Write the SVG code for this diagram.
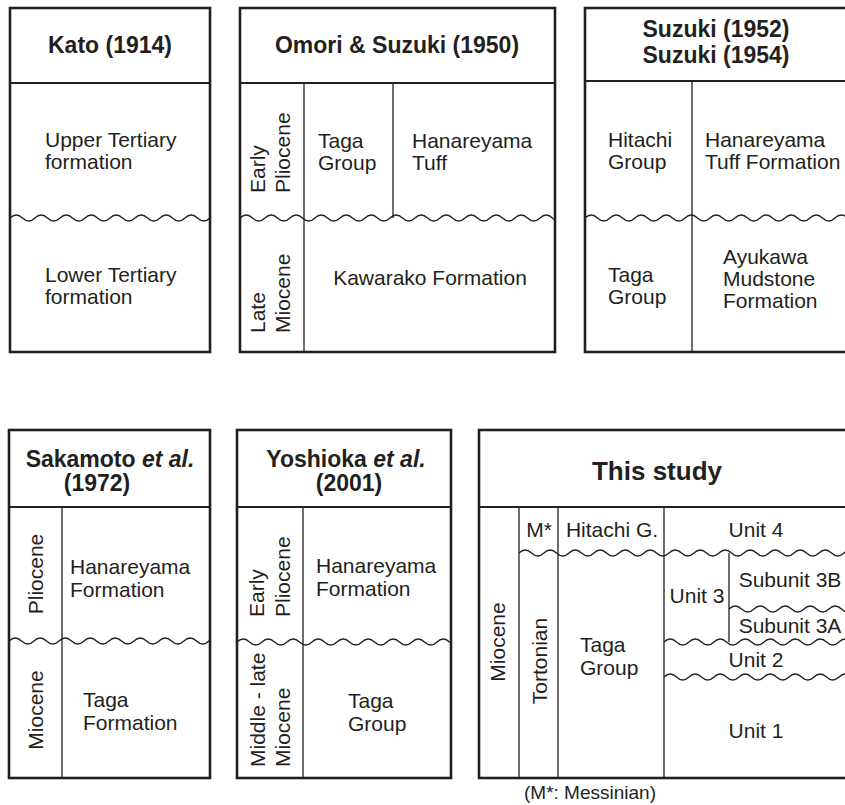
<svg xmlns="http://www.w3.org/2000/svg" width="845" height="805" viewBox="0 0 845 805">
  <style>
    .frame { fill: none; stroke: #231f20; stroke-width: 2.6; }
    .head { fill: none; stroke: #231f20; stroke-width: 2; }
    .rule { fill: none; stroke: #231f20; stroke-width: 1.3; }
    .wavy { fill: none; stroke: #231f20; stroke-width: 1.3; }
    text { font-family: "Liberation Sans", Arial, sans-serif; fill: #231f20; }
    .title { font-weight: bold; font-size: 23px; text-anchor: middle; }
    .big { font-size: 26px; }
    .body { font-size: 21px; }
    .mid { text-anchor: middle; }
    .note { font-size: 19px; text-anchor: middle; }
  </style>
  <defs>
    <!-- unconformity line: repeating half-waves of 12.5 px -->
    <path id="wave" d="M0,0 q6.25,-6 12.5,0 t12.5,0 t12.5,0 t12.5,0 t12.5,0 t12.5,0 t12.5,0 t12.5,0 t12.5,0 t12.5,0 t12.5,0 t12.5,0 t12.5,0 t12.5,0 t12.5,0 t12.5,0 t12.5,0 t12.5,0 t12.5,0 t12.5,0 t12.5,0 t12.5,0 t12.5,0 t12.5,0 t12.5,0 t12.5,0 t12.5,0 t12.5,0 t12.5,0 t12.5,0 t12.5,0 t12.5,0"/>
    <clipPath id="c1" clipPathUnits="userSpaceOnUse"><rect x="10" y="0" width="200" height="805"/></clipPath>
    <clipPath id="c2" clipPathUnits="userSpaceOnUse"><rect x="240" y="0" width="315" height="805"/></clipPath>
    <clipPath id="c3" clipPathUnits="userSpaceOnUse"><rect x="585" y="0" width="263" height="805"/></clipPath>
    <clipPath id="c4" clipPathUnits="userSpaceOnUse"><rect x="9" y="0" width="201" height="805"/></clipPath>
    <clipPath id="c5" clipPathUnits="userSpaceOnUse"><rect x="237" y="0" width="214" height="805"/></clipPath>
    <clipPath id="c6" clipPathUnits="userSpaceOnUse"><rect x="479" y="0" width="369" height="805"/></clipPath>
  </defs>

  <!-- Kato (1914) -->
  <g id="kato">
    <rect class="frame" x="10" y="8" width="200" height="344"/>
    <line class="head" x1="10" y1="83" x2="210" y2="83"/>
    <g class="wavy" clip-path="url(#c1)"><use href="#wave" x="10" y="218"/></g>
    <text class="title" x="110" y="53">Kato (1914)</text>
    <text class="body" x="45" y="147">Upper Tertiary</text>
    <text class="body" x="45" y="169">formation</text>
    <text class="body" x="45" y="282">Lower Tertiary</text>
    <text class="body" x="45" y="304">formation</text>
  </g>

  <!-- Omori & Suzuki (1950) -->
  <g id="omori-suzuki">
    <rect class="frame" x="240" y="8" width="315" height="344"/>
    <line class="head" x1="240" y1="83" x2="555" y2="83"/>
    <line class="rule" x1="304" y1="83" x2="304" y2="352"/>
    <line class="rule" x1="393" y1="83" x2="393" y2="218"/>
    <g class="wavy" clip-path="url(#c2)"><use href="#wave" x="240" y="218"/></g>
    <text class="title" x="397" y="53">Omori &amp; Suzuki (1950)</text>
    <text class="body" transform="translate(265,193) rotate(-90)">Early</text>
    <text class="body" transform="translate(290,193) rotate(-90)">Pliocene</text>
    <text class="body" x="318" y="148">Taga</text>
    <text class="body" x="318" y="170">Group</text>
    <text class="body" x="412" y="148">Hanareyama</text>
    <text class="body" x="412" y="170">Tuff</text>
    <text class="body" transform="translate(265,333) rotate(-90)">Late</text>
    <text class="body" transform="translate(290,333) rotate(-90)">Miocene</text>
    <text class="body mid" x="430" y="285">Kawarako Formation</text>
  </g>

  <!-- Suzuki (1952, 1954) -->
  <g id="suzuki">
    <rect class="frame" x="585" y="8" width="263" height="344"/>
    <line class="head" x1="585" y1="81" x2="848" y2="81"/>
    <line class="rule" x1="692" y1="81" x2="692" y2="352"/>
    <g class="wavy" clip-path="url(#c3)"><use href="#wave" x="585" y="218"/></g>
    <text class="title" x="716" y="37">Suzuki (1952)</text>
    <text class="title" x="716" y="63">Suzuki (1954)</text>
    <text class="body" x="608" y="147">Hitachi</text>
    <text class="body" x="608" y="169">Group</text>
    <text class="body" x="705" y="147">Hanareyama</text>
    <text class="body" x="705" y="169">Tuff Formation</text>
    <text class="body" x="608" y="282">Taga</text>
    <text class="body" x="608" y="304">Group</text>
    <text class="body" x="723" y="264">Ayukawa</text>
    <text class="body" x="723" y="286">Mudstone</text>
    <text class="body" x="723" y="308">Formation</text>
  </g>

  <!-- Sakamoto et al. (1972) -->
  <g id="sakamoto">
    <rect class="frame" x="9" y="430" width="201" height="348"/>
    <line class="head" x1="9" y1="507" x2="210" y2="507"/>
    <line class="rule" x1="62" y1="507" x2="62" y2="778"/>
    <g class="wavy" clip-path="url(#c4)"><use href="#wave" x="9" y="641"/></g>
    <text class="title" x="110" y="467">Sakamoto <tspan font-style="italic">et al.</tspan></text>
    <text class="title" x="97" y="491">(1972)</text>
    <text class="body mid" transform="translate(43,574) rotate(-90)">Pliocene</text>
    <text class="body mid" transform="translate(43,710) rotate(-90)">Miocene</text>
    <text class="body" x="70" y="574">Hanareyama</text>
    <text class="body" x="70" y="597">Formation</text>
    <text class="body" x="83" y="707">Taga</text>
    <text class="body" x="83" y="730">Formation</text>
  </g>

  <!-- Yoshioka et al. (2001) -->
  <g id="yoshioka">
    <rect class="frame" x="237" y="430" width="214" height="348"/>
    <line class="head" x1="237" y1="507" x2="451" y2="507"/>
    <line class="rule" x1="303" y1="507" x2="303" y2="778"/>
    <g class="wavy" clip-path="url(#c5)"><use href="#wave" x="237" y="642"/></g>
    <text class="title" x="346" y="467">Yoshioka <tspan font-style="italic">et al.</tspan></text>
    <text class="title" x="349" y="491">(2001)</text>
    <text class="body" transform="translate(264,617) rotate(-90)">Early</text>
    <text class="body" transform="translate(290,617) rotate(-90)">Pliocene</text>
    <text class="body" transform="translate(265,767) rotate(-90)">Middle - late</text>
    <text class="body" transform="translate(290,767) rotate(-90)">Miocene</text>
    <text class="body" x="316" y="573">Hanareyama</text>
    <text class="body" x="316" y="596">Formation</text>
    <text class="body" x="348" y="708">Taga</text>
    <text class="body" x="348" y="731">Group</text>
  </g>

  <!-- This study -->
  <g id="this-study">
    <rect class="frame" x="479" y="430" width="369" height="348"/>
    <line class="head" x1="479" y1="507" x2="848" y2="507"/>
    <line class="rule" x1="519" y1="507" x2="519" y2="778"/>
    <line class="rule" x1="558" y1="507" x2="558" y2="778"/>
    <line class="rule" x1="664" y1="507" x2="664" y2="778"/>
    <line class="rule" x1="729" y1="553" x2="729" y2="642"/>
    <g class="wavy" clip-path="url(#c6)">
      <use href="#wave" x="519" y="553"/>
      <use href="#wave" x="729" y="609"/>
      <use href="#wave" x="664" y="642"/>
      <use href="#wave" x="664" y="677"/>
    </g>
    <text class="title big" x="657" y="480">This study</text>
    <text class="body mid" transform="translate(505,642) rotate(-90)">Miocene</text>
    <text class="body mid" transform="translate(547,661) rotate(-90)">Tortonian</text>
    <text class="body mid" x="539" y="537">M*</text>
    <text class="body mid" x="612" y="537">Hitachi G.</text>
    <text class="body mid" x="756" y="537">Unit 4</text>
    <text class="body" x="580" y="652">Taga</text>
    <text class="body" x="580" y="675">Group</text>
    <text class="body mid" x="697" y="603">Unit 3</text>
    <text class="body mid" x="790" y="587">Subunit 3B</text>
    <text class="body mid" x="790" y="633">Subunit 3A</text>
    <text class="body mid" x="756" y="667">Unit 2</text>
    <text class="body mid" x="756" y="738">Unit 1</text>
  </g>

  <text class="note" x="590" y="799">(M*: Messinian)</text>
</svg>
